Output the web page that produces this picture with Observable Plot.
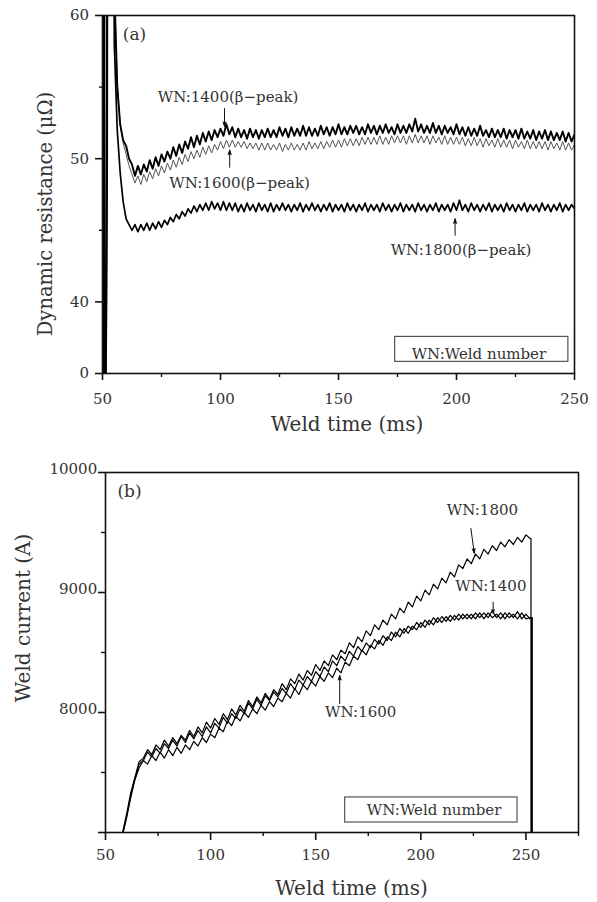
<!DOCTYPE html>
<html><head><meta charset="utf-8">
<script src="https://cdn.jsdelivr.net/npm/d3@7"></script>
<script src="https://cdn.jsdelivr.net/npm/@observablehq/plot@0.6"></script>
<style>
html,body{margin:0;padding:0;background:#fff;}
#chart{width:597px;height:902px;}
#chart svg{display:block;}
</style></head><body><div id="chart"></div>
<script>
// ================= DATA =================
// Panel (a): dynamic resistance (μΩ) vs weld time (ms)
const aSpikeT1400 = [50.05, 50.15, 50.6, 50.75, 51.3, 51.55, 51.9, 52.05, 54.4];
const aSpikeV1400 = [0, 75, 75, 0, 0, 41, 55, 75, 75];
const aSpikeT1600 = [50.1, 50.2, 50.7, 50.85, 51.4, 51.6, 51.95, 52.1, 54.5];
const aSpikeV1600 = [0, 75, 75, 0, 0, 40, 53, 75, 75];
const aSpikeT1800 = [50.15, 50.25, 50.8, 50.95, 51.45, 51.7, 52.0, 52.15, 54.6];
const aSpikeV1800 = [0, 75, 75, 0, 0, 38, 50, 75, 75];
const aBodyStart = 55, aBodyStep = 1.25; // sampling of the values below (ms)
const aBody1400 = [
 62, 55, 52.4, 51.3, 50.9, 50.0, 49.6, 48.8,
 49.5, 48.9, 49.6, 49.1, 49.9, 49.3, 50.1, 49.5,
 50.3, 49.8, 50.5, 50.0, 50.8, 50.2, 51.0, 50.4,
 51.2, 50.7, 51.5, 50.8, 51.6, 51.0, 51.8, 51.2,
 51.9, 51.3, 52.0, 51.5, 52.1, 51.6, 52.4, 51.7,
 52.2, 51.5, 52.1, 51.5, 52.0, 51.4, 52.1, 51.5,
 52.0, 51.4, 52.0, 51.5, 52.1, 51.5, 52.0, 51.5,
 52.2, 51.6, 52.1, 51.5, 52.2, 51.6, 52.1, 51.6,
 52.3, 51.6, 52.2, 51.6, 52.1, 51.6, 52.3, 51.7,
 52.2, 51.6, 52.2, 51.7, 52.4, 51.7, 52.2, 51.7,
 52.3, 51.8, 52.3, 51.7, 52.2, 51.7, 52.4, 51.8,
 52.3, 51.7, 52.3, 51.8, 52.4, 51.8, 52.2, 51.7,
 52.4, 51.8, 52.3, 51.8, 52.4, 51.9, 52.8, 51.9,
 52.4, 51.8, 52.3, 51.8, 52.5, 51.8, 52.3, 51.7,
 52.3, 51.8, 52.2, 51.7, 52.4, 51.7, 52.2, 51.6,
 52.2, 51.6, 52.1, 51.6, 52.3, 51.6, 52.0, 51.5,
 52.1, 51.5, 52.0, 51.5, 52.1, 51.4, 52.0, 51.5,
 52.0, 51.4, 52.1, 51.4, 51.9, 51.4, 52.0, 51.3,
 51.9, 51.4, 52.0, 51.3, 51.9, 51.3, 51.8, 51.3,
 51.9, 51.2, 51.8, 51.2, 51.7
];
const aBody1600 = [
 62, 55.5, 52.3, 51.1, 50.3, 49.5, 48.9, 48.3,
 48.8, 48.2, 48.9, 48.4, 49.1, 48.6, 49.3, 48.8,
 49.5, 49.0, 49.7, 49.2, 49.9, 49.4, 50.1, 49.6,
 50.3, 49.8, 50.5, 50.0, 50.6, 50.1, 50.8, 50.3,
 50.9, 50.4, 51.0, 50.6, 51.2, 50.7, 51.3, 50.8,
 51.3, 50.8, 51.2, 50.8, 51.2, 50.7, 51.1, 50.7,
 51.1, 50.6, 51.1, 50.6, 51.1, 50.6, 51.0, 50.6,
 51.1, 50.5, 51.0, 50.6, 51.1, 50.6, 51.0, 50.6,
 51.1, 50.6, 51.2, 50.7, 51.1, 50.7, 51.2, 50.7,
 51.2, 50.8, 51.3, 50.8, 51.3, 50.8, 51.4, 50.9,
 51.4, 50.9, 51.4, 50.9, 51.5, 51.0, 51.5, 51.0,
 51.5, 51.0, 51.6, 51.0, 51.5, 51.0, 51.6, 51.1,
 51.6, 51.1, 51.6, 51.0, 51.6, 51.1, 51.7, 51.1,
 51.6, 51.1, 51.6, 51.0, 51.6, 51.1, 51.5, 51.0,
 51.6, 51.0, 51.5, 51.0, 51.5, 51.0, 51.5, 50.9,
 51.4, 50.9, 51.5, 50.9, 51.4, 50.8, 51.4, 50.9,
 51.3, 50.8, 51.4, 50.8, 51.3, 50.8, 51.3, 50.7,
 51.3, 50.8, 51.2, 50.7, 51.3, 50.7, 51.2, 50.7,
 51.2, 50.7, 51.2, 50.6, 51.2, 50.7, 51.1, 50.6,
 51.2, 50.6, 51.1, 50.6, 51.0
];
const aBody1800 = [
 58, 52, 49.0, 47.0, 45.8, 45.4, 45.0, 45.4,
 44.9, 45.4, 45.0, 45.5, 45.0, 45.5, 45.1, 45.6,
 45.2, 45.7, 45.4, 45.9, 45.6, 46.1, 45.8, 46.3,
 46.0, 46.5, 46.2, 46.7, 46.3, 46.8, 46.4, 46.9,
 46.4, 47.0, 46.5, 46.9, 46.4, 47.0, 46.4, 46.9,
 46.4, 46.9, 46.3, 46.8, 46.3, 46.9, 46.4, 46.8,
 46.3, 46.9, 46.4, 46.8, 46.3, 46.9, 46.3, 46.8,
 46.4, 46.9, 46.4, 46.8, 46.3, 46.8, 46.4, 46.9,
 46.3, 46.8, 46.4, 46.9, 46.4, 46.8, 46.3, 46.8,
 46.4, 46.9, 46.3, 46.8, 46.4, 46.8, 46.3, 46.9,
 46.4, 46.8, 46.3, 46.8, 46.4, 46.9, 46.3, 46.8,
 46.4, 46.8, 46.3, 46.9, 46.4, 46.8, 46.3, 46.8,
 46.4, 46.9, 46.3, 46.8, 46.4, 46.8, 46.3, 46.9,
 46.4, 46.8, 46.3, 46.8, 46.4, 46.9, 46.3, 46.8,
 46.4, 46.8, 46.3, 46.9, 46.4, 47.1, 46.4, 46.8,
 46.3, 46.9, 46.4, 46.8, 46.3, 46.8, 46.4, 46.9,
 46.3, 46.8, 46.4, 46.8, 46.3, 46.9, 46.4, 46.8,
 46.3, 46.8, 46.4, 46.9, 46.3, 46.8, 46.4, 46.8,
 46.3, 46.9, 46.4, 46.8, 46.3, 46.8, 46.4, 46.9,
 46.3, 46.8, 46.4, 46.8, 46.5
];
const aXTicks = [50, 100, 150, 200, 250];
const aXMinor = [75, 125, 175, 225];
const aYTicks = [0, 40, 50, 60];
const aYMinor = [45, 55];
const aYBreak = 40; // the axis is compressed below this value
const aNoteLabels = ["WN:1400(β−peak)", "WN:1600(β−peak)", "WN:1800(β−peak)"];
const aNoteT = [103.2, 108.1, 201.9];
const aNoteV = [54.3, 48.26, 43.6];
const aArrowT = [101.7, 103.9, 199.4];
const aArrowV1 = [53.5, 49.4, 44.65];
const aArrowV2 = [52.25, 50.6, 45.8];
const aBoxT = [174.0, 247.4];
const aBoxV = [6.5, 20.45];
const aBoxTextT = 209.5, aBoxTextV = 10.8;

// Panel (b): weld current (A) vs weld time (ms)
const bBodyStart = 58, bBodyStep = 2; // sampling of the values below (ms)
const bBody1800 = [
 6990, 7150, 7330, 7460, 7590, 7620, 7690, 7650, 7730, 7690,
 7770, 7720, 7790, 7740, 7810, 7770, 7850, 7800, 7880, 7830,
 7920, 7870, 7950, 7900, 7990, 7940, 8030, 7980, 8060, 8010,
 8100, 8050, 8130, 8080, 8160, 8110, 8190, 8150, 8240, 8190,
 8280, 8240, 8320, 8270, 8350, 8310, 8400, 8350, 8430, 8390,
 8480, 8440, 8520, 8490, 8580, 8540, 8630, 8590, 8680, 8640,
 8730, 8690, 8770, 8730, 8820, 8780, 8870, 8830, 8920, 8880,
 8970, 8930, 9020, 8980, 9070, 9030, 9120, 9080, 9170, 9130,
 9230, 9200, 9280, 9240, 9320, 9280, 9360, 9320, 9390, 9350,
 9420, 9380, 9440, 9400, 9460, 9420, 9480, 9450
];
const bBody1400 = [
 6980, 7130, 7310, 7450, 7570, 7600, 7670, 7630, 7700, 7660,
 7740, 7700, 7770, 7720, 7800, 7750, 7830, 7780, 7850, 7800,
 7880, 7830, 7910, 7870, 7960, 7910, 7990, 7950, 8030, 7990,
 8080, 8030, 8110, 8060, 8140, 8100, 8170, 8130, 8200, 8160,
 8240, 8190, 8270, 8230, 8300, 8260, 8340, 8300, 8380, 8340,
 8430, 8390, 8470, 8430, 8510, 8470, 8550, 8510, 8580, 8540,
 8610, 8570, 8640, 8600, 8670, 8630, 8700, 8660, 8720, 8690,
 8750, 8710, 8770, 8730, 8790, 8750, 8800, 8760, 8810, 8770,
 8820, 8780, 8820, 8780, 8830, 8790, 8830, 8790, 8850, 8790,
 8830, 8780, 8830, 8790, 8840, 8780, 8820, 8780
];
const bBody1600 = [
 6970, 7120, 7290, 7440, 7540, 7600, 7570, 7640, 7600, 7670,
 7620, 7690, 7640, 7710, 7660, 7730, 7690, 7760, 7720, 7790,
 7750, 7820, 7790, 7870, 7840, 7930, 7890, 7970, 7930, 8000,
 7960, 8030, 7990, 8060, 8020, 8090, 8050, 8120, 8090, 8160,
 8120, 8200, 8150, 8230, 8190, 8260, 8220, 8300, 8260, 8330,
 8290, 8370, 8330, 8420, 8390, 8470, 8440, 8520, 8480, 8560,
 8530, 8600, 8560, 8630, 8600, 8670, 8630, 8700, 8660, 8720,
 8690, 8750, 8710, 8770, 8730, 8790, 8750, 8800, 8760, 8810,
 8770, 8820, 8780, 8820, 8780, 8830, 8780, 8830, 8790, 8820,
 8780, 8830, 8790, 8820, 8780, 8830, 8780, 8790
];
const bTailT = [252.4, 252.7, 253.0]; // 1800, 1400, 1600 current cut-off
const bTailV = 6800;
const bXTicks = [50, 100, 150, 200, 250];
const bXMinor = [75, 125, 175, 225, 275];
const bYTicks = [7000, 8000, 9000, 10000];
const bYLabels = [8000, 9000, 10000];
const bYMinor = [7500, 8500, 9500];
const bNoteLabels = ["WN:1800", "WN:1400", "WN:1600"];
const bNoteT = [229.3, 233.3, 171.4];
const bNoteV = [9685, 9050, 8001];
const bArrowT1 = [223.8, 234.4, 161.4];
const bArrowT2 = [225.4, 234.4, 161.4];
const bArrowV1 = [9534, 8919, 8074];
const bArrowV2 = [9328, 8828, 8308];
const bBoxT = [164.0, 246.0];
const bBoxV = [7083, 7292];
const bBoxTextT = 206.3, bBoxTextV = 7187;

// ================= BUILD =================
const FONT = "'DejaVu Serif', serif";
const TXT = "#333";
// broken y axis of panel (a): 0–40 squeezed to a quarter of the 40–60 band
const uA = v => v <= aYBreak ? v * 0.125 : 5 + (v - aYBreak);
function series(spT, spV, start, step, body, tail) {
  const pts = spT.map((t, i) => ({t, v: spV[i]}));
  body.forEach((v, i) => pts.push({t: start + i * step, v}));
  if (tail) tail.forEach(p => pts.push(p));
  return pts;
}
const a1400 = series(aSpikeT1400, aSpikeV1400, aBodyStart, aBodyStep, aBody1400);
const a1600 = series(aSpikeT1600, aSpikeV1600, aBodyStart, aBodyStep, aBody1600);
const a1800 = series(aSpikeT1800, aSpikeV1800, aBodyStart, aBodyStep, aBody1800);
const aNotes = aNoteLabels.map((label, i) => ({label, t: aNoteT[i], v: aNoteV[i]}));
const aArrows = aArrowT.map((t, i) => ({t1: t, t2: t, v1: aArrowV1[i], v2: aArrowV2[i]}));

const b1800 = series([], [], bBodyStart, bBodyStep, bBody1800, [{t: bTailT[0], v: bBody1800[bBody1800.length-1]}, {t: bTailT[0], v: bTailV}]);
const b1400 = series([], [], bBodyStart, bBodyStep, bBody1400, [{t: bTailT[1], v: bBody1400[bBody1400.length-1]}, {t: bTailT[1], v: bTailV}]);
const b1600 = series([], [], bBodyStart, bBodyStep, bBody1600, [{t: bTailT[2], v: bBody1600[bBody1600.length-1]}, {t: bTailT[2], v: bTailV}]);
const bNotes = bNoteLabels.map((label, i) => ({label, t: bNoteT[i], v: bNoteV[i]}));
const bArrows = bArrowT1.map((t, i) => ({t1: t, t2: bArrowT2[i], v1: bArrowV1[i], v2: bArrowV2[i]}));

const style = {fontFamily: FONT, fontSize: "15px", color: TXT, background: "#fff"};
const fmt = d => String(d);

const plotA = Plot.plot({
  width: 597, height: 440,
  marginLeft: 102, marginRight: 23, marginTop: 15, marginBottom: 67,
  style,
  x: {domain: [50, 250]},
  y: {domain: [uA(0), uA(60)]},
  marks: [
    Plot.rect([0], {x1: () => aBoxT[0], x2: () => aBoxT[1], y1: () => uA(aBoxV[0]), y2: () => uA(aBoxV[1]), fill: "none", stroke: "#555", strokeWidth: 1.2}),
    Plot.text(["WN:Weld number"], {x: () => aBoxTextT, y: () => uA(aBoxTextV), text: d => d, fill: TXT, fontSize: 15}),
    Plot.line(a1600, {x: "t", y: d => uA(d.v), stroke: "#555", strokeWidth: 1, clip: true}),
    Plot.line(a1400, {x: "t", y: d => uA(d.v), stroke: "#000", strokeWidth: 1.9, clip: true}),
    Plot.line(a1800, {x: "t", y: d => uA(d.v), stroke: "#000", strokeWidth: 1.7, clip: true}),
    Plot.text(aNotes, {x: "t", y: d => uA(d.v), text: "label", fill: TXT, fontSize: 15}),
    Plot.arrow(aArrows, {x1: "t1", y1: d => uA(d.v1), x2: "t2", y2: d => uA(d.v2), headLength: 7, headAngle: 36, stroke: "#111", fill: "#111", strokeWidth: 1}),
    Plot.frame({stroke: "#111", strokeWidth: 1.6}),
    Plot.axisX(aXTicks, {tickSize: 7, tickPadding: 12.5, tickFormat: fmt, label: null, stroke: "#111", strokeWidth: 1.6}),
    Plot.axisX(aXMinor, {tickSize: 4, tickFormat: () => "", label: null, stroke: "#111", strokeWidth: 1.4}),
    Plot.axisY(aYTicks, {y: d => uA(d), tickSize: 7, tickPadding: 6.5, tickFormat: fmt, label: null, stroke: "#111", strokeWidth: 1.6}),
    Plot.axisY(aYMinor, {y: d => uA(d), tickSize: 3, tickFormat: () => "", label: null, stroke: "#111", strokeWidth: 1.4}),
    Plot.text(["(a)"], {frameAnchor: "top-left", text: d => d, dx: 32, dy: 19, textAnchor: "middle", lineAnchor: "middle", fontSize: 17, fill: TXT}),
    Plot.text(["Dynamic resistance (μΩ)"], {frameAnchor: "left", text: d => d, rotate: -90, dx: -57, dy: 19.5, textAnchor: "middle", lineAnchor: "middle", fontSize: 19.5, fill: TXT}),
    Plot.text(["Weld time (ms)"], {frameAnchor: "bottom", text: d => d, dx: 8.5, dy: 51, textAnchor: "middle", lineAnchor: "middle", fontSize: 20, fill: TXT})
  ]
});

const plotB = Plot.plot({
  width: 597, height: 462,
  marginLeft: 105, marginRight: 19, marginTop: 32, marginBottom: 70,
  style,
  x: {domain: [50, 275]},
  y: {domain: [7000, 10000]},
  marks: [
    Plot.rect([0], {x1: () => bBoxT[0], x2: () => bBoxT[1], y1: () => bBoxV[0], y2: () => bBoxV[1], fill: "none", stroke: "#555", strokeWidth: 1.2}),
    Plot.text(["WN:Weld number"], {x: () => bBoxTextT, y: () => bBoxTextV, text: d => d, fill: TXT, fontSize: 15}),
    Plot.line(b1600, {x: "t", y: "v", stroke: "#000", strokeWidth: 1.2, clip: true}),
    Plot.line(b1400, {x: "t", y: "v", stroke: "#000", strokeWidth: 1.2, clip: true}),
    Plot.line(b1800, {x: "t", y: "v", stroke: "#000", strokeWidth: 1.2, clip: true}),
    Plot.text(bNotes, {x: "t", y: "v", text: "label", fill: TXT, fontSize: 15}),
    Plot.arrow(bArrows, {x1: "t1", y1: "v1", x2: "t2", y2: "v2", headLength: 7, headAngle: 36, stroke: "#111", fill: "#111", strokeWidth: 1}),
    Plot.frame({stroke: "#111", strokeWidth: 1.6}),
    Plot.axisX(bXTicks, {tickSize: 8, tickPadding: 9, tickFormat: fmt, label: null, stroke: "#111", strokeWidth: 1.6}),
    Plot.axisX(bXMinor, {tickSize: 4, tickFormat: () => "", label: null, stroke: "#111", strokeWidth: 1.4}),
    Plot.axisY(bYTicks, {tickSize: 7, tickFormat: () => "", label: null, stroke: "#111", strokeWidth: 1.6}),
    Plot.axisY(bYLabels, {tickSize: 0, tickPadding: 8.3, dy: -3, tickFormat: fmt, label: null}),
    Plot.axisY(bYMinor, {tickSize: 4, tickFormat: () => "", label: null, stroke: "#111", strokeWidth: 1.4}),
    Plot.text(["(b)"], {frameAnchor: "top-left", text: d => d, dx: 24, dy: 19.5, textAnchor: "middle", lineAnchor: "middle", fontSize: 17, fill: TXT}),
    Plot.text(["Weld current (A)"], {frameAnchor: "left", text: d => d, rotate: -90, dx: -82, dy: -34.5, textAnchor: "middle", lineAnchor: "middle", fontSize: 20, fill: TXT}),
    Plot.text(["Weld time (ms)"], {frameAnchor: "bottom", text: d => d, dx: 9.5, dy: 56, textAnchor: "middle", lineAnchor: "middle", fontSize: 20, fill: TXT})
  ]
});

const root = document.getElementById("chart");
root.appendChild(plotA);
root.appendChild(plotB);
</script>
</body></html>
